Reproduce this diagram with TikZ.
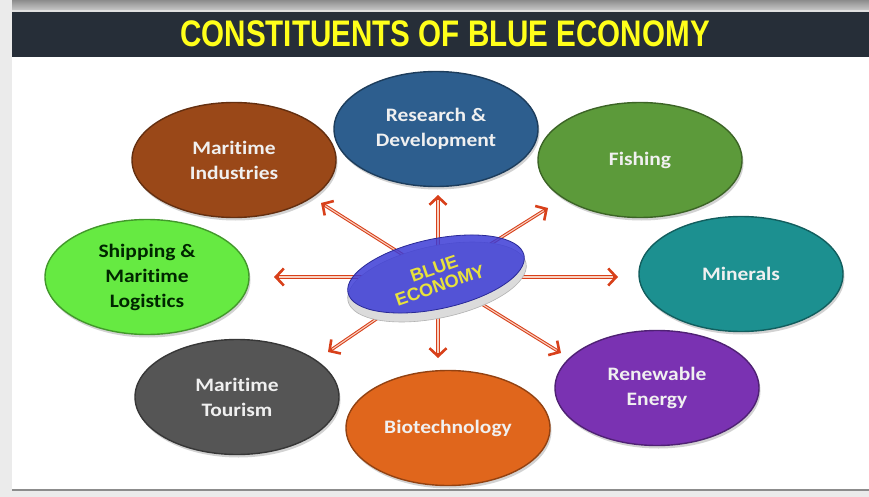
\documentclass[tikz,border=0pt]{standalone}
\usepackage{fontspec}
\setmainfont[Ligatures=NoCommon, FakeStretch=1.13]{Carlito}
\newfontfamily\titlefont[FakeStretch=0.80]{Liberation Sans}
\newfontfamily\hubfont{Liberation Sans}
\usetikzlibrary{shapes.geometric,shadows,arrows.meta}

\definecolor{barbg}{HTML}{262E38}
\definecolor{titleyellow}{HTML}{FFFF1A}
\definecolor{arrowred}{HTML}{D8401A}
\definecolor{arrowcore}{HTML}{F8D0C0}
\definecolor{hubblue}{HTML}{3A3AD6}
\definecolor{hubtext}{HTML}{E8E23C}
\definecolor{cResearch}{HTML}{2D5E8E}
\definecolor{cIndustry}{HTML}{9A4818}
\definecolor{cFishing}{HTML}{5C9A3A}
\definecolor{cShipping}{HTML}{66EA42}
\definecolor{cMinerals}{HTML}{1C9090}
\definecolor{cTourism}{HTML}{555555}
\definecolor{cBiotech}{HTML}{E0661C}
\definecolor{cEnergy}{HTML}{7A32B2}

\tikzset{
  blob/.style={ellipse, minimum width=204pt, minimum height=115pt, inner sep=0pt,
    align=center, font=\bfseries\fontsize{19}{25}\selectfont, text=white!94!black,
    fill=#1, draw=#1!65!black, line width=1.4pt,
    drop shadow={shadow xshift=1.5pt, shadow yshift=-3pt, opacity=0.35}},
  rayout/.style={draw=arrowred, line width=3.2pt,
    -{Straight Barb[length=8pt, width=17pt, line width=2.6pt]}},
  raycore/.style={draw=arrowcore, line width=1.1pt, shorten >=5pt},
}

\begin{document}
\begin{tikzpicture}[x=1pt, y=-1pt]
  % page frame
  \useasboundingbox (0,0) rectangle (869,497);
  \fill[black!8] (0,0) rectangle (869,497);
  \fill[white] (12,57) rectangle (869,489);
  \fill[black!45] (12,489) rectangle (869,491);
  \shade[top color=black!45, bottom color=black!22] (12,0) rectangle (869,10);
  \fill[black!12] (12,10) rectangle (869,12);
  \fill[barbg] (12,12) rectangle (869,57);
  \node[font=\titlefont\bfseries\fontsize{37}{38}\selectfont, text=titleyellow]
    (title) at (445,34) {CONSTITUENTS OF BLUE ECONOMY};

  % outer topics
  \node[blob=cResearch] (rd)   at (436,129) {Research \&\\Development};
  \node[blob=cIndustry] (mi)   at (234,160) {Maritime\\Industries};
  \node[blob=cFishing]  (fish) at (640,160) {Fishing};
  \node[blob=cShipping, text=black!85!green] (ship) at (147,277) {Shipping \&\\Maritime\\Logistics};
  \node[blob=cMinerals] (min)  at (741,274) {Minerals};
  \node[blob=cTourism]  (tour) at (237,397) {Maritime\\Tourism};
  \node[blob=cBiotech]  (bio)  at (448,428) {Biotechnology};
  \node[blob=cEnergy]   (ren)  at (657,388) {Renewable\\Energy};

  % arrow tips around the hub
  \coordinate (hub) at (438,277);
  \coordinate (tUp) at (438,195);
  \coordinate (tUL) at (321,203);
  \coordinate (tUR) at (548,208);
  \coordinate (tL)  at (274,277);
  \coordinate (tR)  at (618,277);
  \coordinate (tDL) at (328,352);
  \coordinate (tD)  at (438,358);
  \coordinate (tDR) at (561,353);

  \foreach \t in {tUp,tUL,tUR,tL,tR,tDL,tD,tDR}{
    \draw[rayout] (hub) -- (\t);
    \draw[raycore] (hub) -- (\t);
  }

  % hub button
  \node[ellipse, rotate=12, minimum width=182pt, minimum height=72pt,
        fill=black!14, draw=black!30, line width=0.6pt] (hubrim) at (437,282) {};
  \node[ellipse, rotate=12, minimum width=180pt, minimum height=70pt,
        fill=hubblue, fill opacity=0.84, draw=hubblue!70!black, line width=0.8pt] (hubdisc) at (436,274) {};
  \node[rotate=19, align=center, text=hubtext, inner sep=0pt,
        font=\hubfont\bfseries\fontsize{18}{18}\selectfont] (hublabel) at (437,277) {BLUE\\ECONOMY};
\end{tikzpicture}
\end{document}
